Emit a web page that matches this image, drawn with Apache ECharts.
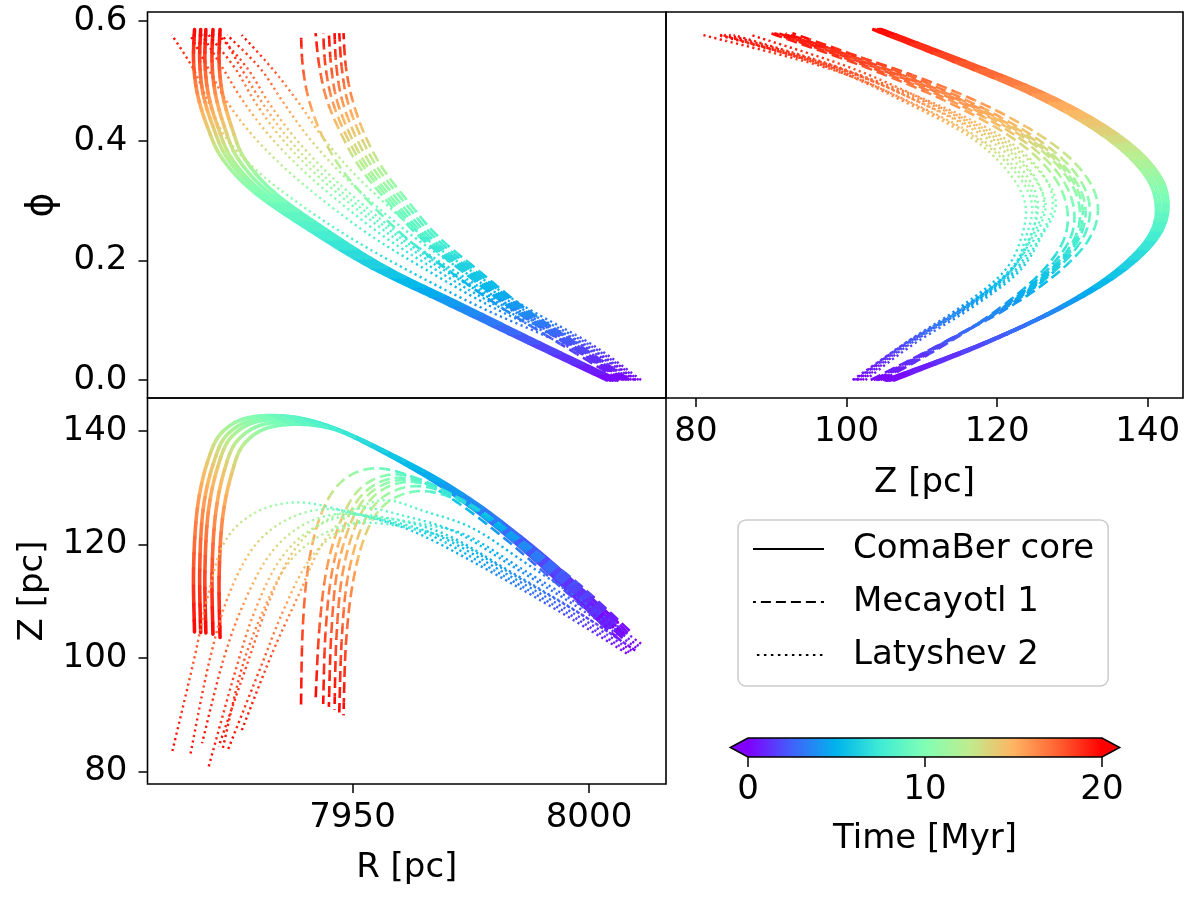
<!DOCTYPE html>
<html>
<head>
<meta charset="utf-8">
<script src="https://cdn.jsdelivr.net/npm/echarts@6/dist/echarts.min.js"></script>
<style>
  html, body { margin: 0; padding: 0; background: #fff; }
  #chart { width: 1200px; height: 897px; }
</style>
</head>
<body>
<div id="chart"></div>
<script>
// orbit samples, every 2 Myr
var timeSteps = [0, 2, 4, 6, 8, 10, 12, 14, 16, 18, 20];

// ComaBer core (solid)
var comaPhi = [0, 0.062, 0.125, 0.188, 0.251, 0.314, 0.370, 0.424, 0.479, 0.533, 0.586];
var comaR = [
    [8003.8, 7987.2, 7970.6, 7954.0, 7940.8, 7929.2, 7922.5, 7919.3, 7917.2, 7916.4, 7916.6],
    [8004.5, 7988.0, 7971.4, 7954.9, 7941.8, 7930.2, 7923.6, 7920.5, 7918.4, 7917.7, 7917.9],
    [8005.0, 7988.5, 7972.0, 7955.5, 7942.5, 7931.0, 7924.5, 7921.5, 7919.5, 7918.8, 7919.0],
    [8005.5, 7989.1, 7972.8, 7956.4, 7943.5, 7932.2, 7925.8, 7922.9, 7921.0, 7920.3, 7920.5],
    [8006.0, 7989.6, 7973.4, 7957.2, 7944.5, 7933.4, 7927.2, 7924.4, 7922.5, 7921.8, 7922.0]
];
var comaZ = [
    [105.2, 118.3, 129.2, 137.3, 141.9, 142.5, 139.8, 134.4, 126.3, 115.7, 104.6],
    [105.4, 118.4, 129.1, 137.1, 141.6, 142.1, 139.4, 134.0, 126.0, 115.5, 104.5],
    [105.5, 118.3, 129.0, 136.9, 141.4, 141.8, 139.0, 133.6, 125.6, 115.2, 104.4],
    [105.8, 118.4, 128.9, 136.6, 141.0, 141.3, 138.4, 133.0, 125.0, 114.8, 104.2],
    [106.3, 118.6, 128.8, 136.3, 140.6, 140.8, 137.8, 132.3, 124.4, 114.2, 103.6]
];

// Mecayotl 1 (dashed)
var mecaPhi = [0, 0.060, 0.121, 0.182, 0.240, 0.298, 0.355, 0.410, 0.468, 0.524, 0.580];
var mecaR = [
    [8006.5, 7994.0, 7981.5, 7970.5, 7961.0, 7953.5, 7947.5, 7943.5, 7940.8, 7939.5, 7939.1],
    [8007.0, 7995.2, 7983.3, 7973.2, 7964.1, 7957.4, 7951.6, 7947.7, 7944.6, 7943.0, 7942.2],
    [8007.3, 7995.6, 7983.8, 7973.9, 7964.8, 7958.2, 7952.5, 7948.6, 7945.7, 7944.3, 7943.8],
    [8007.5, 7996.0, 7984.3, 7974.5, 7965.5, 7959.0, 7953.3, 7949.5, 7946.7, 7945.5, 7945.0],
    [8007.8, 7996.5, 7984.9, 7975.2, 7966.3, 7959.9, 7954.3, 7950.5, 7947.8, 7946.6, 7946.2],
    [8008.2, 7997.0, 7985.6, 7976.0, 7967.2, 7960.9, 7955.3, 7951.6, 7948.9, 7947.7, 7947.2],
    [8008.6, 7997.6, 7986.3, 7976.8, 7968.1, 7961.8, 7956.3, 7952.6, 7950.0, 7948.6, 7948.1]
];
var mecaZ = [
    [103.2, 112.5, 121.5, 128.3, 132.4, 133.3, 130.9, 125.6, 117.0, 105.6, 91.1],
    [103.6, 112.5, 121.1, 127.6, 131.5, 132.2, 129.8, 124.5, 115.9, 105.2, 92.8],
    [103.9, 112.6, 121.0, 127.3, 131.0, 131.6, 129.1, 123.9, 115.3, 104.5, 91.9],
    [104.0, 112.7, 120.9, 127.1, 130.7, 131.2, 128.7, 123.5, 114.9, 104.0, 91.4],
    [104.2, 112.8, 120.8, 126.9, 130.4, 130.8, 128.3, 123.0, 114.4, 103.5, 90.9],
    [104.5, 113.0, 120.7, 126.5, 129.8, 130.0, 127.5, 122.3, 113.7, 102.9, 90.4],
    [104.8, 113.2, 120.4, 126.0, 129.0, 129.1, 126.6, 121.4, 112.9, 102.3, 89.9]
];

// Latyshev 2 (dotted)
var latyPhi = [0, 0.060, 0.120, 0.180, 0.238, 0.296, 0.352, 0.408, 0.465, 0.521, 0.577];
var latyR = [
    [8008.0, 7994.5, 7977.5, 7962.5, 7949.5, 7938.5, 7929.5, 7923.0, 7919.5, 7916.3, 7911.8],
    [8008.5, 7996.0, 7980.0, 7966.5, 7954.5, 7944.5, 7936.0, 7929.0, 7923.5, 7919.5, 7915.7],
    [8009.0, 7997.0, 7981.5, 7968.5, 7957.0, 7947.5, 7939.3, 7932.5, 7927.0, 7922.6, 7918.2],
    [8009.5, 7998.0, 7982.8, 7970.1, 7958.8, 7949.3, 7941.2, 7934.6, 7929.4, 7925.2, 7919.6],
    [8010.0, 7999.0, 7984.3, 7972.0, 7961.0, 7951.8, 7944.0, 7937.5, 7932.2, 7927.8, 7921.7],
    [8010.5, 7999.8, 7985.6, 7973.8, 7963.2, 7954.3, 7946.8, 7940.5, 7935.3, 7930.5, 7923.5],
    [8011.0, 8000.5, 7987.0, 7975.5, 7965.3, 7956.8, 7949.5, 7943.5, 7938.5, 7933.0, 7926.6],
    [8009.8, 7998.5, 7983.5, 7971.0, 7960.0, 7950.5, 7942.5, 7936.0, 7930.8, 7926.5, 7922.5]
];
var latyZ = [
    [100.8, 107.8, 116.0, 122.4, 125.6, 127.4, 125.6, 120.5, 111.2, 99.0, 83.2],
    [101.0, 107.6, 115.4, 121.6, 124.6, 126.2, 124.3, 119.4, 110.4, 98.6, 82.9],
    [101.3, 107.7, 115.3, 121.4, 124.3, 125.4, 123.3, 118.2, 109.6, 99.4, 85.0],
    [101.5, 107.9, 115.5, 121.6, 124.4, 125.1, 122.6, 117.2, 108.4, 97.6, 80.9],
    [101.8, 108.2, 115.9, 122.1, 125.0, 126.4, 124.0, 118.8, 109.6, 99.1, 84.4],
    [102.1, 108.4, 115.8, 121.7, 123.8, 124.6, 122.1, 116.8, 108.2, 98.2, 83.5],
    [102.5, 108.9, 116.5, 122.8, 125.8, 127.8, 125.4, 119.9, 110.9, 100.8, 87.3],
    [101.3, 107.6, 114.9, 120.8, 123.2, 123.7, 121.2, 116.2, 107.7, 97.9, 83.8]
];

var phiTicks = [0, 0.2, 0.4, 0.6];
var zTicks = [80, 100, 120, 140];
var rTicks = [7950, 8000];
var timeTicks = [0, 10, 20];

// matplotlib "rainbow"
var rainbow = ['#8000ff', '#4062fa', '#00b4ec', '#40ecd4', '#80ffb4', '#bfec8e', '#ffb462', '#ff6232', '#ff0000'];

var FONT = 'DejaVu Sans';
var FS = 34;

var groups = [
    { name: 'ComaBer core', phi: comaPhi, R: comaR, Z: comaZ, width: 3.6, dash: null, legendType: 'solid' },
    { name: 'Mecayotl 1', phi: mecaPhi, R: mecaR, Z: mecaZ, width: 2.6, dash: [11, 5], legendType: [10, 5] },
    { name: 'Latyshev 2', phi: latyPhi, R: latyR, Z: latyZ, width: 2.4, dash: [2.2, 3.4], legendType: [2.5, 4.5] }
];

// which quantities go on x / y in each panel
var panels = [
    { grid: 0, x: 'R', y: 'phi' },
    { grid: 1, x: 'Z', y: 'phi' },
    { grid: 2, x: 'R', y: 'Z' }
];

var PIECE = 0.5, STEP = 0.1;

function sampleAt(arr, t) {
    var h = timeSteps[1] - timeSteps[0];
    var u = (t - timeSteps[0]) / h;
    var n = arr.length;
    var i = Math.max(0, Math.min(n - 2, Math.floor(u)));
    var s = u - i;
    var p0 = arr[Math.max(i - 1, 0)], p1 = arr[i], p2 = arr[i + 1], p3 = arr[Math.min(i + 2, n - 1)];
    // catmull-rom through the read points, like a smoothed line
    return 0.5 * (2 * p1 + (p2 - p0) * s + (2 * p0 - 5 * p1 + 4 * p2 - p3) * s * s +
        (3 * p1 - p0 - 3 * p2 + p3) * s * s * s);
}

function valueOf(g, m, key, t) {
    return key === 'phi' ? sampleAt(g.phi, t) : sampleAt(g[key][m], t);
}

function trackSeries(p, g) {
    var data = [];
    for (var m = 0; m < g.R.length; m++) {
        for (var k = 0; k < 20 / PIECE; k++) {
            data.push([k * PIECE + PIECE / 2, m, k * PIECE]);
        }
    }
    return {
        type: 'custom',
        xAxisIndex: p.grid,
        yAxisIndex: p.grid,
        silent: true,
        animation: false,
        data: data,
        renderItem: function (params, api) {
            var m = api.value(1), t0 = api.value(2);
            var pix = function (t) {
                return api.coord([valueOf(g, m, p.x, t), valueOf(g, m, p.y, t)]);
            };
            var off = 0;
            if (g.dash) {
                var prev = pix(0);
                for (var s = STEP; s <= t0 + 1e-9; s += STEP) {
                    var c = pix(s);
                    off += Math.sqrt((c[0] - prev[0]) * (c[0] - prev[0]) + (c[1] - prev[1]) * (c[1] - prev[1]));
                    prev = c;
                }
            }
            var pts = [];
            for (var t = t0; t <= t0 + PIECE + 1e-9; t += STEP) pts.push(pix(t));
            return {
                type: 'polyline',
                shape: { points: pts },
                style: {
                    fill: null,
                    stroke: api.visual('color'),
                    lineWidth: g.width,
                    lineDash: g.dash,
                    lineDashOffset: off,
                    lineCap: g.dash ? 'butt' : 'round'
                }
            };
        }
    };
}

var series = [];
var trackIdx = [];
groups.forEach(function (g) {
    panels.forEach(function (p) {
        trackIdx.push(series.length);
        series.push(trackSeries(p, g));
    });
});

// legend entries
groups.forEach(function (g) {
    series.push({
        type: 'line', name: g.name, data: [], xAxisIndex: 0, yAxisIndex: 0,
        symbol: 'none', itemStyle: { color: '#000', opacity: 0 },
        lineStyle: { color: '#000', width: 2, type: g.legendType }
    });
});

// colour bar
series.push({
    type: 'custom', xAxisIndex: 3, yAxisIndex: 3, silent: true, animation: false,
    data: [[0, 0]],
    renderItem: function (params, api) {
        var a = api.coord([0, 0]), b = api.coord([20, 1]);
        var x0 = a[0], x1 = b[0], yb = a[1], yt = b[1], ym = (yb + yt) / 2;
        var ext = (x1 - x0) * 0.05;
        var stops = rainbow.map(function (c, i) { return { offset: i / (rainbow.length - 1), color: c }; });
        return {
            type: 'group',
            children: [
                { type: 'rect', shape: { x: x0, y: yt, width: x1 - x0, height: yb - yt },
                  style: { fill: new echarts.graphic.LinearGradient(0, 0, 1, 0, stops) } },
                { type: 'polygon', shape: { points: [[x0 + 0.5, yt], [x0 - ext, ym], [x0 + 0.5, yb]] },
                  style: { fill: rainbow[0] } },
                { type: 'polygon', shape: { points: [[x1 - 0.5, yt], [x1 + ext, ym], [x1 - 0.5, yb]] },
                  style: { fill: rainbow[rainbow.length - 1] } },
                { type: 'polygon', shape: { points: [[x0 - ext, ym], [x0, yt], [x1, yt], [x1 + ext, ym], [x1, yb], [x0, yb]] },
                  style: { fill: null, stroke: '#000', lineWidth: 1.5 } }
            ]
        };
    }
});

var tickStyle = { color: '#000', width: 1.5 };
var labelStyle = { color: '#000', fontFamily: FONT, fontSize: FS };
var nameStyle = { color: '#000', fontFamily: FONT, fontSize: FS };

function gridBox(l, t, w, h) {
    return { left: l, top: t, width: w, height: h, show: true, borderColor: '#000', borderWidth: 1.6,
             backgroundColor: 'transparent', containLabel: false };
}

function hiddenAxis(idx, min, max) {
    return { type: 'value', gridIndex: idx, min: min, max: max, axisLine: { show: false, onZero: false },
             axisTick: { show: false }, axisLabel: { show: false }, splitLine: { show: false } };
}

function tickAxis(idx, min, max, ticks, fmt, extra) {
    var ax = {
        type: 'value', gridIndex: idx, min: min, max: max,
        axisLine: { show: false, onZero: false },
        axisTick: { show: true, inside: false, length: 9, lineStyle: tickStyle, customValues: ticks },
        axisLabel: Object.assign({ customValues: ticks, formatter: fmt, margin: 17 }, labelStyle),
        splitLine: { show: false },
        nameTextStyle: nameStyle
    };
    return Object.assign(ax, extra || {});
}

var phiMin = -0.0301, phiMax = 0.6154;
var rMin = 7906.66, rMax = 8016.28;

var option = {
    animation: false,
    backgroundColor: '#fff',
    textStyle: { fontFamily: FONT },
    grid: [
        gridBox(147.5, 12, 518.5, 386),
        gridBox(666, 12, 517, 386),
        gridBox(147.5, 398, 518.5, 386),
        { left: 748, top: 738, width: 354, height: 19, show: false }
    ],
    xAxis: [
        hiddenAxis(0, rMin, rMax),
        tickAxis(1, 76.02, 144.68, zTicks, function (v) { return String(v); },
            { name: 'Z [pc]', nameLocation: 'middle', nameGap: 68 }),
        tickAxis(2, rMin, rMax, rTicks, function (v) { return String(v); },
            { name: 'R [pc]', nameLocation: 'middle', nameGap: 67 }),
        (function () {
            var ax = tickAxis(3, 0, 20, timeTicks, function (v) { return String(v); },
                { name: 'Time [Myr]', nameLocation: 'middle', nameGap: 65 });
            ax.axisTick.length = 10;
            ax.axisLabel.margin = 16;
            return ax;
        })()
    ],
    yAxis: [
        (function () {
            var ax = tickAxis(0, phiMin, phiMax, phiTicks, function (v) { return v.toFixed(1); },
                { name: 'ϕ', nameLocation: 'middle', nameRotate: 90, nameGap: 86 });
            ax.axisLabel.margin = 20;
            ax.nameTextStyle = Object.assign({}, nameStyle, { fontSize: 38 });
            return ax;
        })(),
        hiddenAxis(1, phiMin, phiMax),
        (function () {
            var ax = tickAxis(2, 77.82, 145.77, zTicks, function (v) { return String(v); },
                { name: 'Z [pc]', nameLocation: 'middle', nameRotate: 90, nameGap: 97 });
            ax.axisLabel.margin = 20;
            return ax;
        })(),
        { type: 'value', gridIndex: 3, min: 0, max: 1, show: false }
    ],
    visualMap: [{
        type: 'continuous', show: false, min: 0, max: 20, dimension: 0,
        seriesIndex: trackIdx, inRange: { color: rainbow }
    }],
    legend: {
        orient: 'vertical', left: 738, top: 520,
        data: groups.map(function (g) { return g.name; }),
        itemWidth: 71, itemHeight: 14, itemGap: 15,
        itemStyle: { opacity: 0 },
        padding: [10, 14, 12, 14],
        borderColor: '#cccccc', borderWidth: 1.5, borderRadius: 8,
        backgroundColor: 'rgba(255,255,255,0.8)',
        selectedMode: false,
        textStyle: { color: '#000', fontFamily: FONT, fontSize: FS, lineHeight: 38, padding: [0, 0, 0, 24] }
    },
    series: series
};

var chart = echarts.init(document.getElementById('chart'), null, { renderer: 'canvas' });
chart.setOption(option);
</script>
</body>
</html>
